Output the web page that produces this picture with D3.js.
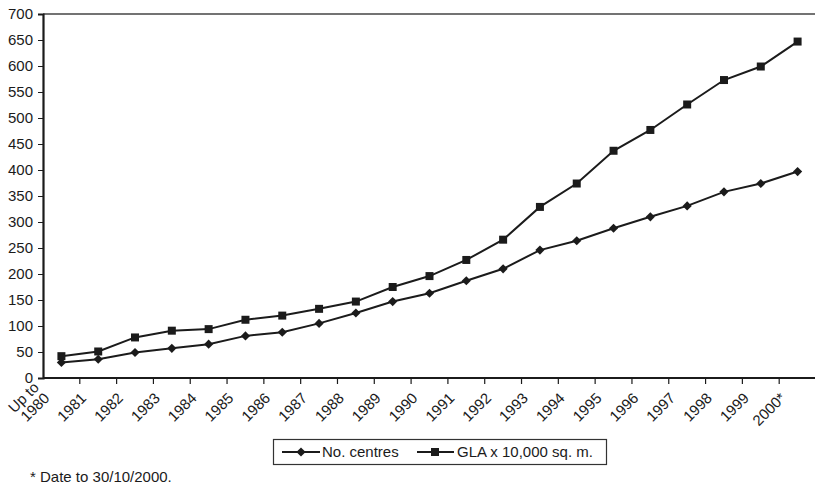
<!DOCTYPE html>
<html>
<head>
<meta charset="utf-8">
<script src="https://cdn.jsdelivr.net/npm/d3@7"></script>
<style>
  html, body { margin: 0; padding: 0; background: #fff; }
  svg { display: block; font-family: "Liberation Sans", Arial, Helvetica, sans-serif; }
</style>
</head>
<body>
<svg id="chart" width="815" height="486"></svg>
<script>
// Shopping centres: count and gross leasable area by year
const years = ["Up to\n1980", "1981", "1982", "1983", "1984", "1985", "1986", "1987", "1988",
  "1989", "1990", "1991", "1992", "1993", "1994", "1995", "1996", "1997", "1998", "1999", "2000*"];
const centres = [30, 36, 49, 57, 65, 81, 88, 105, 125, 147, 163, 187, 210, 246, 264, 288, 310, 331, 358, 374, 397];
const gla = [42, 51, 78, 91, 94, 112, 120, 133, 147, 175, 196, 227, 266, 329, 374, 437, 477, 526, 573, 599, 647];
const yTicks = [0, 50, 100, 150, 200, 250, 300, 350, 400, 450, 500, 550, 600, 650, 700];
const seriesNames = ["No. centres", "GLA x 10,000 sq. m."];
const footnote = "* Date to 30/10/2000.";

const svg = d3.select("#chart");
const ink = "#1b1b1b";

const x = d3.scaleBand().domain(years).range([43, 816]).paddingInner(0).paddingOuter(0);
const y = d3.scaleLinear().domain([0, 700]).range([378, 14]);

// top frame line
svg.append("line")
  .attr("x1", 43).attr("x2", 815).attr("y1", y(700)).attr("y2", y(700))
  .attr("stroke", "#444").attr("stroke-width", 1.5);

// y axis
const yAxis = svg.append("g")
  .attr("transform", "translate(43,0)")
  .call(d3.axisLeft(y).tickValues(yTicks).tickSize(5).tickPadding(5).tickFormat(d3.format("d")));
yAxis.select(".domain").attr("stroke", ink).attr("stroke-width", 2.2);
yAxis.selectAll(".tick line").attr("stroke", ink).attr("stroke-width", 1);
yAxis.selectAll(".tick text").attr("font-size", 15).attr("fill", ink)
  .attr("font-family", "Liberation Sans, Arial, sans-serif");

// x axis with ticks between categories
const xAxisG = svg.append("g").attr("transform", `translate(0,${y(0)})`);
xAxisG.append("line")
  .attr("x1", 43).attr("x2", 815).attr("y1", 0).attr("y2", 0)
  .attr("stroke", ink).attr("stroke-width", 2);
xAxisG.selectAll("line.tk")
  .data(years.slice(1))
  .join("line")
  .attr("class", "tk")
  .attr("x1", d => x(d)).attr("x2", d => x(d))
  .attr("y1", 0).attr("y2", 6)
  .attr("stroke", ink).attr("stroke-width", 1.2);

// rotated category labels
const labels = svg.append("g").selectAll("text")
  .data(years)
  .join("text")
  .attr("transform", d => `translate(${x(d) + x.bandwidth() / 2 - 11},399) rotate(-45)`)
  .attr("text-anchor", "end")
  .attr("font-size", 15)
  .attr("fill", ink);
labels.each(function(d) {
  const parts = d.split("\n");
  const t = d3.select(this);
  parts.forEach((p, i) => {
    t.append("tspan")
      .attr("x", 0)
      .attr("dy", i === 0 ? `${-(parts.length - 1) * 1.0}em` : "1.0em")
      .text(p);
  });
});

// series lines
const line = d3.line()
  .x((d, i) => x(years[i]) + x.bandwidth() / 2)
  .y(d => y(d));

svg.append("path").datum(centres)
  .attr("d", line).attr("fill", "none").attr("stroke", ink).attr("stroke-width", 2);
svg.append("path").datum(gla)
  .attr("d", line).attr("fill", "none").attr("stroke", ink).attr("stroke-width", 2);

const diamond = d3.symbol().type(d3.symbolDiamond2).size(60);
const square = d3.symbol().type(d3.symbolSquare).size(64);

svg.append("g").selectAll("path")
  .data(centres)
  .join("path")
  .attr("transform", (d, i) => `translate(${x(years[i]) + x.bandwidth() / 2},${y(d)}) rotate(45)`)
  .attr("d", d3.symbol().type(d3.symbolSquare).size(42))
  .attr("fill", ink);

svg.append("g").selectAll("path")
  .data(gla)
  .join("path")
  .attr("transform", (d, i) => `translate(${x(years[i]) + x.bandwidth() / 2},${y(d)})`)
  .attr("d", square)
  .attr("fill", ink);

// legend
const lg = svg.append("g");
lg.append("rect")
  .attr("x", 273.5).attr("y", 439.5).attr("width", 333).attr("height", 25)
  .attr("fill", "#fff").attr("stroke", "#333").attr("stroke-width", 1.2);
const ly = 452;
// item 1
lg.append("line").attr("x1", 282).attr("x2", 320).attr("y1", ly).attr("y2", ly)
  .attr("stroke", ink).attr("stroke-width", 2);
lg.append("path").attr("transform", `translate(301,${ly}) rotate(45)`)
  .attr("d", d3.symbol().type(d3.symbolSquare).size(42)).attr("fill", ink);
lg.append("text").attr("x", 322).attr("y", ly).attr("dy", "0.35em")
  .attr("font-size", 15).attr("fill", ink).text(seriesNames[0]);
// item 2
lg.append("line").attr("x1", 417).attr("x2", 454).attr("y1", ly).attr("y2", ly)
  .attr("stroke", ink).attr("stroke-width", 2);
lg.append("path").attr("transform", `translate(435,${ly})`)
  .attr("d", square).attr("fill", ink);
lg.append("text").attr("x", 457).attr("y", ly).attr("dy", "0.35em")
  .attr("font-size", 15).attr("fill", ink).text(seriesNames[1]);

// footnote
svg.append("text").attr("x", 30).attr("y", 482)
  .attr("font-size", 15).attr("fill", ink).text(footnote);
</script>
</body>
</html>
